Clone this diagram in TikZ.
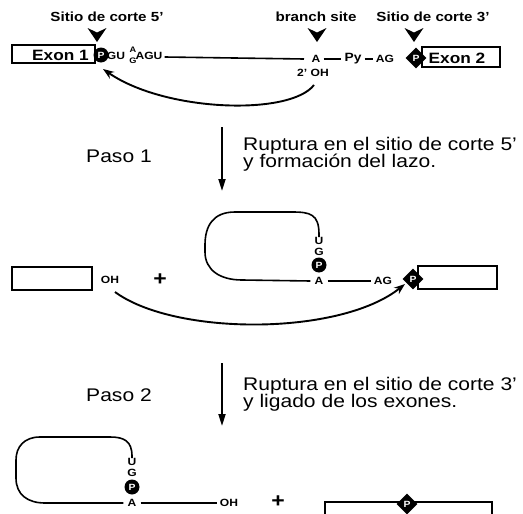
\documentclass[tikz,border=0pt]{standalone}
\usepackage{fontspec}
\setmainfont{Liberation Sans}[FakeStretch=1.15]
\usetikzlibrary{arrows.meta,shapes.geometric}
\begin{document}
\begin{tikzpicture}[x=1pt,y=-1pt,
  lbl/.style={font=\fontsize{13.2}{14}\bfseries\selectfont, inner sep=0pt},
  big/.style={font=\fontsize{18.3}{19}\selectfont, inner sep=0pt},
  sm/.style={font=\fontsize{10.5}{11}\bfseries\selectfont, inner sep=0pt},
  tiny/.style={font=\fontsize{8}{8}\bfseries\selectfont, inner sep=0pt},
  pc/.style={circle, fill=black, minimum size=15pt, inner sep=0pt, text=white, font=\fontsize{9}{9}\bfseries\selectfont},
  pd/.style={diamond, fill=black, minimum size=21pt, inner sep=0pt, text=white, font=\fontsize{9}{9}\bfseries\selectfont},
  exon/.style={draw, line width=2.4pt, inner sep=0pt, fill=white},
  etxt/.style={font=\fontsize{15}{16}\bfseries\selectfont, inner sep=0pt},
  ln/.style={line width=1.6pt},
  curv/.style={line width=1.9pt, -{Stealth[length=11pt,width=8pt]}},
  varr/.style={line width=1.9pt, -{Triangle[length=12pt,width=7pt]}},
  plus/.style={font=\fontsize{20}{20}\bfseries\selectfont, inner sep=0pt},
  chev/.pic={\fill (-9.5,0) -- (0,4.5) -- (9.5,0) -- (0,14) -- cycle;}
]
\useasboundingbox (0,0) rectangle (523,514);

% ---- top labels
\node[lbl] (s5) at (107,17) {Sitio de corte 5'};
\node[lbl] (bs) at (316,17) {branch site};
\node[lbl] (s3) at (433,17) {Sitio de corte 3'};
\pic (c5) at (97,28) {chev};
\pic (cb) at (317,28) {chev};
\pic (c3) at (414,28) {chev};

% ---- pre-mRNA
\node[exon, minimum width=83pt, minimum height=18pt] (ex1) at (53.5,54) {};
\node[etxt, anchor=east] (ex1t) at (89,55) {Exon 1};
\node[pc] (p1) at (101,55) {P};
\node[sm] (gu) at (116,56) {GU};
\node[tiny] (sa) at (133,50) {A};
\node[tiny] (sg) at (133,61) {G};
\node[sm] (agu) at (149,56) {AGU};
\node[sm] (a1) at (316,59) {A};
\node[sm] (oh1) at (313,73) {2' OH};
\node[font=\fontsize{12}{12}\bfseries\selectfont, inner sep=0pt] (py) at (353,59) {Py};
\node[sm] (ag1) at (385,59) {AG};
\node[exon, minimum width=78pt, minimum height=20pt] (ex2) at (461,57) {};
\node[etxt] (ex2t) at (457,58) {Exon 2};
\node[pd] (d1) at (416,58) {P};
\draw[ln] (agu.east) ++(2,1) coordinate (l1s) -- (a1.west -| 304,0) coordinate (l1e);
\draw[ln] ([xshift=3pt]a1.east) -- ([xshift=-3pt]py.west);
\draw[ln] ([xshift=3pt]py.east) -- ([xshift=-3pt]ag1.west);
\coordinate (c1s) at (314,85);
\coordinate (c1e) at (103,69);
\draw[curv] (c1s) .. controls (290,116) and (165,112) .. (c1e);

% ---- step 1
\coordinate (v1a) at (222,127);
\coordinate (v1b) at (222,191);
\draw[varr] (v1a) -- (v1b);
\node[big] (paso1) at (119,156) {Paso 1};
\node[big, anchor=west] (r1a) at (243,146) {Ruptura en el sitio de corte 5'};
\node[big, anchor=west] (r1b) at (243,163) {y formación del lazo.};

% ---- intermediates
\node[exon, minimum width=80pt, minimum height=23pt] (ex1b) at (52,278.5) {};
\node[sm] (oh2) at (110,280) {OH};
\node[plus] (pl1) at (160,280) {+};
\node[sm] (u2) at (319,241) {U};
\node[sm] (g2) at (319,252) {G};
\node[pc] (p2) at (319,265) {P};
\node[sm] (a2) at (319,281) {A};
\node[sm] (ag2) at (383,281) {AG};
\node[exon, minimum width=79pt, minimum height=23pt] (ex2b) at (457.5,277.5) {};
\node[pd] (d2) at (413,279) {P};
\draw[ln] (u2.north) -- ++(0,-3) .. controls (319,214) and (310,212) .. (292,212) -- (235,212)
  .. controls (213,212) and (205,226) .. (205,245) -- (205,252)
  .. controls (205,270) and (220,280) .. (242,280) -- ([xshift=-4pt]a2.west);
\draw[ln] ([xshift=4pt]a2.east) -- ([xshift=-3pt]ag2.west);
\coordinate (c2s) at (115,292);
\coordinate (c2e) at (405,284);
\draw[curv] (c2s) .. controls (175,336) and (340,336) .. (c2e);

% ---- step 2
\coordinate (v2a) at (222,363);
\coordinate (v2b) at (222,426);
\draw[varr] (v2a) -- (v2b);
\node[big] (paso2) at (119,395) {Paso 2};
\node[big, anchor=west] (r2a) at (243,386) {Ruptura en el sitio de corte 3'};
\node[big, anchor=west] (r2b) at (243,403) {y ligado de los exones.};

% ---- products
\node[sm] (u3) at (132,462) {U};
\node[sm] (g3) at (132,473) {G};
\node[pc] (p3) at (132,487) {P};
\node[sm] (a3) at (132,503) {A};
\node[sm] (oh3) at (229,503) {OH};
\node[plus] (pl2) at (278,502) {+};
\draw[ln] (u3.north) -- ++(0,-2) .. controls (132,441) and (124,437) .. (110,437) -- (40,437)
  .. controls (24,437) and (16,447) .. (16,460) -- (16,478)
  .. controls (16,495) and (28,503) .. (45,503) -- ([xshift=-4pt]a3.west);
\draw[ln] ([xshift=4pt]a3.east) -- ([xshift=-3pt]oh3.west);
\draw[line width=2.4pt] (325,520) -- (325,502) -- (492,502) -- (492,520);
\node[pd] (d3) at (407,504) {P};
\end{tikzpicture}
\end{document}
